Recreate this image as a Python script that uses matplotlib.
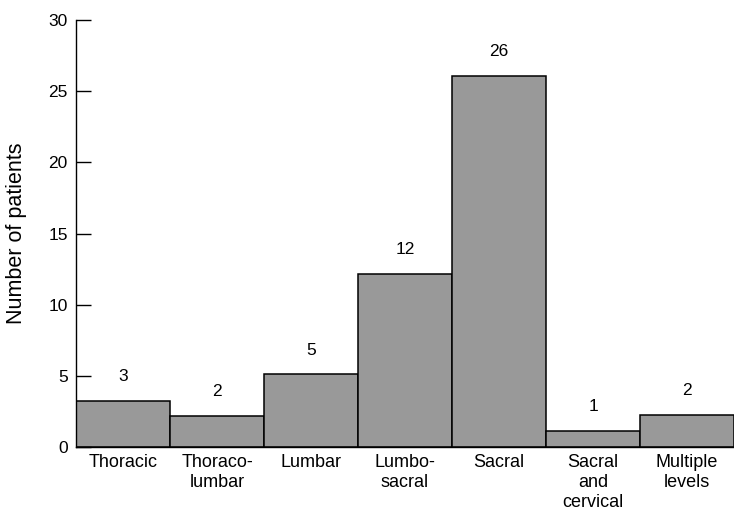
import numpy as np
import matplotlib
matplotlib.use("Agg")
import matplotlib.pyplot as plt

plt.rcParams['font.family'] = ['Liberation Sans', 'DejaVu Sans']

categories = ["Thoracic", "Thoraco-\nlumbar", "Lumbar", "Lumbo-\nsacral", "Sacral",
              "Sacral\nand\ncervical", "Multiple\nlevels"]
counts = [3, 2, 5, 12, 26, 1, 2]
# bar tops as drawn in the original (slightly above the counts)
bar_heights = [3.25, 2.2, 5.1, 12.15, 26.1, 1.15, 2.25]

fig = plt.figure(figsize=(7.34, 5.12), dpi=100)
ax = fig.add_axes([76 / 734, 65 / 512, 1 - 76 / 734, 427 / 512])

x = np.arange(len(categories))
ax.bar(x, bar_heights, width=1.0, color='#999999', edgecolor='black', linewidth=1.1)

for xi, h, c in zip(x, bar_heights, counts):
    ax.annotate(str(c), (xi, h), xytext=(0, 12), textcoords='offset points',
                ha='center', va='bottom', fontsize=12.5)

ax.set_xlim(-0.5, 6.5)
ax.set_ylim(0, 30)
ax.set_yticks([0, 5, 10, 15, 20, 25, 30])
ax.set_xticks(x)
ax.set_xticklabels(categories, fontsize=13, linespacing=1.22, va='top')
ax.tick_params(axis='x', length=0, pad=5)
ax.tick_params(axis='y', direction='in', length=10.5, width=1, pad=6, labelsize=12.5)

ax.spines['top'].set_visible(False)
ax.spines['right'].set_visible(False)
ax.spines['left'].set_linewidth(1)
ax.spines['bottom'].set_linewidth(1)

ax.set_ylabel("Number of patients", fontsize=15.5)
ax.yaxis.set_label_coords(-0.074, 0.5)

fig.savefig("out.png", dpi=100)
